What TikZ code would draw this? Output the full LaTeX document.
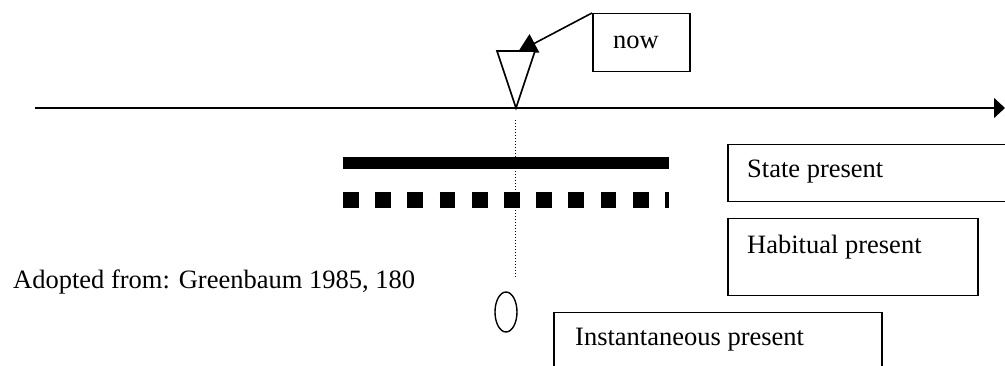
\documentclass[tikz,border=0pt]{standalone}
\usepackage{fontspec}
\setmainfont{Liberation Serif}
\usetikzlibrary{arrows.meta}
\begin{document}
\begin{tikzpicture}[x=1pt,y=-1pt,
  box/.style={draw,line width=1.5pt,inner sep=0pt},
  lbl/.style={anchor=west,inner sep=0pt,font=\fontsize{26.5}{30}\selectfont},
  line/.style={line width=1.6pt}]
\useasboundingbox (0,0) rectangle (1005,366);
\clip (0,0) rectangle (1005,366);
% timeline
\coordinate (tl0) at (35,108);
\coordinate (tl1) at (1005,108);
\draw[line,-{Triangle[length=11pt,width=20pt]}] (tl0) -- (tl1);
% now box and arrow
\node[box,minimum width=97pt,minimum height=58pt,anchor=north west] (nowbox) at (592,13) {};
\node[lbl] (nowtxt) at (613,42) {now};
\coordinate (tip) at (518,52);
\draw[line,-{Triangle[length=18.6pt,width=20.6pt]}] (nowbox.north west) -- (tip);
% inverted triangle
\draw[line,fill=white] (497,51) -- (535,51) -- (516,108) -- cycle;
% dotted vertical
\coordinate (d0) at (515.5,120);
\coordinate (d1) at (515.5,278);
\draw[line width=1pt,dash pattern=on 1.5pt off 1.5pt] (d0) -- (d1);
% bars
\coordinate (s0) at (343,163);
\coordinate (s1) at (669,163);
\draw[line width=12pt] (s0) -- (s1);
\coordinate (h0) at (343,200);
\coordinate (h1) at (669,200);
\draw[line width=16pt,dash pattern=on 15.7pt off 16.5pt] (h0) -- (h1);
% oval
\draw[line width=1.4pt] (506,312) ellipse [x radius=11, y radius=20];
% boxes
\node[box,minimum width=290pt,minimum height=57pt,anchor=north west] (statebox) at (727,144) {};
\node[lbl] (statetxt) at (747,172) {State present};
\node[box,minimum width=250pt,minimum height=77pt,anchor=north west] (habbox) at (727,218) {};
\node[lbl] (habtxt) at (747,247) {Habitual present};
\node[box,minimum width=328pt,minimum height=80pt,anchor=north west] (instbox) at (553,312) {};
\node[lbl] (insttxt) at (575,340) {Instantaneous present};
% source
\node[lbl] (src) at (13,281.5) {Adopted from: Greenbaum 1985, 180};
\end{tikzpicture}
\end{document}
